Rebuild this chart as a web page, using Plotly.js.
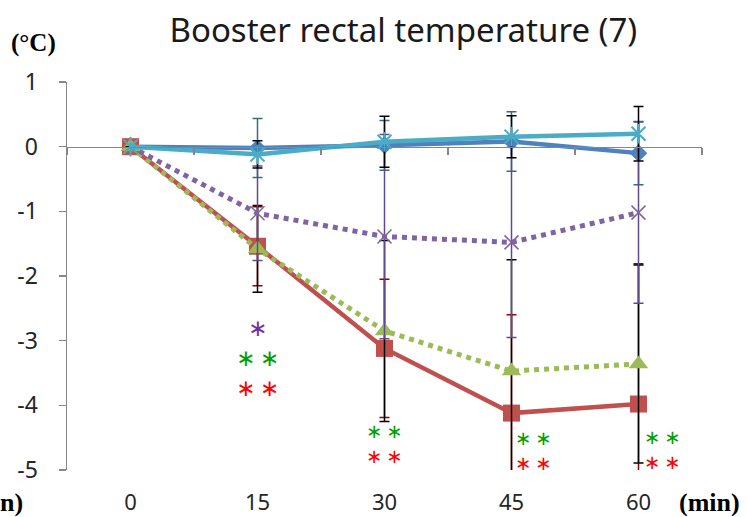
<!DOCTYPE html>
<html><head><meta charset="utf-8">
<script src="https://cdn.plot.ly/plotly-3.0.1.min.js"></script>
<style>html,body{margin:0;padding:0;background:#fff}#chart{width:747px;height:517px}</style>
</head><body><div id="chart"></div>
<script>
const times = ['0', '15', '30', '45', '60'];
const yTickVals = [-5, -4, -3, -2, -1, 0, 1];
const yTickText = ['-5', '-4', '-3', '-2', '-1', '0', '1'];
const blueVals = [0, -0.02, 0.02, 0.08, -0.10];
const blueErr = [0, 0.455, 0.385, 0.46, 0.49];
const redVals = [0, -1.54, -3.12, -4.12, -3.98];
const redErr = [0, 0.61, 1.07, 1.52, 2.17];
const greenVals = [0, -1.58, -2.85, -3.47, -3.36];
const greenErr = [0, 0.67, 1.40, 1.72, 1.53];
const purpleVals = [0, -1.03, -1.39, -1.48, -1.02];
const purpleErr = [0, 0.73, 1.58, 1.47, 1.40];
const cyanVals = [0, -0.12, 0.075, 0.155, 0.20];
const cyanErr = [0, 0.21, 0.395, 0.325, 0.42];
const boundaries = [-0.5, 0.5, 1.5, 2.5, 3.5, 4.5];
// significance marks: one block per time point (purple / green / red rows)
const sigX = [1, 2, 3.17, 4.19];
const sigY = [-3.27, -4.595, -4.705, -4.685];
const sigPurple = ['∗', '', '', ''];
const sigGreen = ['∗\u2009∗', '∗\u2009∗', '∗\u2009∗', '∗\u2009∗'];
const sigRed = ['∗\u2009∗', '∗\u2009∗', '∗\u2009∗', '∗\u2009∗'];
const sigSize = [23, 19.5, 19.5, 19.5];
const purpleMark = '#7030A0', greenMark = '#00A000', redMark = '#FF0000';

const xs = times.map((_, i) => i);
function eb(arr, color) {
  return {type: 'data', array: arr, symmetric: true, color: color, thickness: 1.5, width: 5, visible: true};
}
const traces = [
  {x: xs, y: blueVals, mode: 'lines+markers', line: {color: '#4F81BD', width: 4.5},
   marker: {symbol: 'diamond', size: 13.5, color: '#4F81BD'}, error_y: eb(blueErr, '#2F6F7E')},
  {x: xs, y: redVals, mode: 'lines+markers', line: {color: '#C0504D', width: 4.5},
   marker: {symbol: 'square', size: 17, color: '#C0504D'}, error_y: eb(redErr, '#990000')},
  {x: xs, y: greenVals, mode: 'lines+markers', line: {color: '#9BBB59', width: 5, dash: 'dot'},
   marker: {symbol: 'triangle-up', size: 17, color: '#9BBB59'}, error_y: eb(greenErr, '#000000')},
  {x: xs, y: purpleVals, mode: 'lines+markers', line: {color: '#8064A2', width: 5, dash: 'dot'},
   marker: {symbol: 'x-thin-open', size: 14, color: '#8064A2', line: {color: '#8064A2', width: 1.5}}, error_y: eb(purpleErr, '#5F4B8B')},
  {x: xs, y: cyanVals, mode: 'lines+markers', line: {color: '#4BACC6', width: 4.5},
   marker: {symbol: 'x-thin-open', size: 14, color: '#4BACC6', line: {color: '#4BACC6', width: 2}}, error_y: eb(cyanErr, '#000000')},
  {x: xs, y: cyanVals, mode: 'markers',
   marker: {symbol: 'line-ns-open', size: 14, color: '#4BACC6', line: {color: '#4BACC6', width: 2}}}
];
traces.forEach(t => { t.xaxis = 'x'; t.yaxis = 'y'; t.showlegend = false; t.hoverinfo = 'skip'; });
// helper trace so the category axis (line at y = 0) is displayed
traces.push({x: [boundaries[0]], y: [0], xaxis: 'x2', yaxis: 'y', mode: 'markers', marker: {opacity: 0}, showlegend: false, hoverinfo: 'skip'});

const annotations = sigX.map((x, i) => {
  const rows = [];
  if (sigPurple[i]) rows.push(`<span style="color:${purpleMark}">${sigPurple[i]}</span>`);
  rows.push(`<span style="color:${greenMark}">${sigGreen[i]}</span>`);
  rows.push(`<span style="color:${redMark}">${sigRed[i]}</span>`);
  return {x: x, y: sigY[i], xref: 'x', yref: 'y', text: rows.join('<br>'), showarrow: false,
    align: 'center', xanchor: 'center', yanchor: 'middle',
    font: {family: 'DejaVu Sans', size: sigSize[i], color: greenMark}};
});
annotations.push({text: '<b>(°C)</b>', xref: 'paper', yref: 'paper', x: -0.0535, y: 1.10, showarrow: false,
  font: {family: 'Liberation Serif', size: 25, color: '#000'}, xanchor: 'center', yanchor: 'middle'});
annotations.push({text: '<b>(min)</b>', xref: 'paper', yref: 'paper', x: 1.012, y: -0.085, showarrow: false,
  font: {family: 'Liberation Serif', size: 26, color: '#000'}, xanchor: 'center', yanchor: 'middle'});
annotations.push({text: '<b>n)</b>', xref: 'paper', yref: 'paper', x: -0.108, y: -0.085, showarrow: false,
  font: {family: 'Liberation Serif', size: 26, color: '#000'}, xanchor: 'left', yanchor: 'middle'});

const layout = {
  width: 747, height: 517,
  margin: {l: 67, r: 45, t: 82, b: 47},
  paper_bgcolor: '#fff', plot_bgcolor: '#fff',
  title: {text: 'Booster rectal temperature (7)', x: 0.54, xanchor: 'center', y: 0.942, yanchor: 'middle',
    font: {family: 'Noto Sans', size: 33, color: '#1a1a1a'}},
  xaxis: {range: [-0.5, 4.5], tickvals: xs, ticktext: times, showgrid: false, zeroline: false, showline: false,
    ticks: 'outside', ticklen: 13, tickcolor: 'rgba(0,0,0,0)',
    tickfont: {family: 'Noto Sans', size: 22, color: '#262626'}},
  xaxis2: {range: [-0.5, 4.5], overlaying: 'x', anchor: 'free', position: 5 / 6, tickvals: boundaries,
    showticklabels: false, ticks: 'outside', ticklen: 7, tickwidth: 1.5, tickcolor: '#868686',
    showline: true, linecolor: '#868686', linewidth: 1.5, showgrid: false, zeroline: false},
  yaxis: {range: [-5, 1], tickvals: yTickVals, ticktext: yTickText, showgrid: false, zeroline: false, showline: true,
    linecolor: '#868686', linewidth: 1.5,
    ticks: 'outside', ticklen: 7, tickwidth: 1.5, tickcolor: '#868686', ticklabelstandoff: 16,
    tickfont: {family: 'Noto Sans', size: 23, color: '#262626'}},
  annotations: annotations
};
Plotly.newPlot('chart', traces, layout, {staticPlot: true});
</script></body></html>
